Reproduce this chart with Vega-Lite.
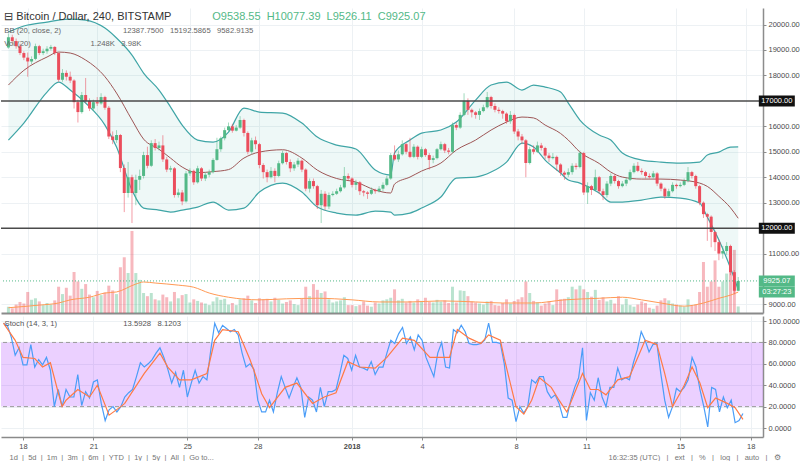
{
"$schema": "https://vega.github.io/schema/vega-lite/v6.json",
"padding": {"left": 0, "top": 8, "right": 0, "bottom": 0},
"spacing": 3,
"config": {
 "font": "Liberation Sans",
 "view": {"stroke": null},
 "axis": {"labelFont": "Liberation Sans", "labelFontSize": 7.5, "labelColor": "#4a4a4a", "gridColor": "#edf1f4", "gridWidth": 1, "domainColor": "#8c8c8c", "tickColor": "#8c8c8c", "labelOverlap": false},
 "title": {"font": "Liberation Sans", "fontWeight": "normal", "color": "#333333", "subtitleFont": "Liberation Sans", "subtitleColor": "#666666"}
},
"title": {
 "text": "⊟ Bitcoin / Dollar, 240, BITSTAMP",
 "subtitle": ["BB (20, close, 2)\u00a0\u00a0\u00a0\u00a0\u00a0\u00a0\u00a0\u00a0\u00a0\u00a0\u00a0\u00a0\u00a0\u00a0\u00a0\u00a0\u00a0\u00a0\u00a0\u00a0\u00a0\u00a0\u00a0\u00a0\u00a0\u00a0\u00a0\u00a0\u00a012387.7500\u00a0\u00a0\u00a015192.5865\u00a0\u00a0\u00a09582.9135", "Vol (20)\u00a0\u00a0\u00a0\u00a0\u00a0\u00a0\u00a0\u00a0\u00a0\u00a0\u00a0\u00a0\u00a0\u00a0\u00a0\u00a0\u00a0\u00a0\u00a0\u00a0\u00a0\u00a0\u00a0\u00a0\u00a0\u00a0\u00a0\u00a01.248K\u00a0\u00a0\u00a03.98K"],
 "anchor": "start", "dx": 4, "fontSize": 11, "subtitleFontSize": 7.7, "subtitlePadding": 5, "subtitleLineHeight": 13, "offset": -40
},
"datasets": {
 "candles": [
{"t":"2017-12-17T04:00Z","o":19100,"h":19650,"l":19050,"c":19500,"v":1.2,"k":98},
{"t":"2017-12-17T08:00Z","o":19500,"h":19600,"l":19250,"c":19350,"v":0.9,"k":96},
{"t":"2017-12-17T12:00Z","o":19350,"h":19450,"l":19050,"c":19150,"v":1.6,"k":85},
{"t":"2017-12-17T16:00Z","o":19150,"h":19250,"l":18800,"c":18880,"v":2.1,"k":68},
{"t":"2017-12-17T20:00Z","o":18880,"h":18950,"l":18600,"c":18700,"v":1.8,"k":75},
{"t":"2017-12-18T00:00Z","o":18700,"h":18900,"l":17950,"c":18550,"v":4.0,"k":59},
{"t":"2017-12-18T04:00Z","o":18550,"h":18750,"l":18450,"c":18650,"v":2.5,"k":59},
{"t":"2017-12-18T08:00Z","o":18650,"h":19250,"l":18600,"c":19150,"v":2.8,"k":78},
{"t":"2017-12-18T12:00Z","o":19150,"h":19200,"l":18800,"c":18880,"v":2.2,"k":57},
{"t":"2017-12-18T16:00Z","o":18880,"h":19050,"l":18800,"c":18950,"v":1.5,"k":64},
{"t":"2017-12-18T20:00Z","o":18950,"h":19150,"l":18850,"c":19050,"v":1.9,"k":59},
{"t":"2017-12-19T00:00Z","o":19050,"h":19200,"l":18980,"c":19120,"v":1.6,"k":66},
{"t":"2017-12-19T04:00Z","o":19120,"h":19150,"l":18800,"c":18880,"v":2.4,"k":54},
{"t":"2017-12-19T08:00Z","o":18880,"h":18900,"l":17750,"c":17830,"v":5.0,"k":20},
{"t":"2017-12-19T12:00Z","o":17830,"h":18250,"l":17750,"c":18100,"v":3.6,"k":36},
{"t":"2017-12-19T16:00Z","o":18100,"h":18200,"l":17800,"c":17950,"v":4.8,"k":20},
{"t":"2017-12-19T20:00Z","o":17950,"h":18150,"l":17700,"c":17800,"v":3.3,"k":36},
{"t":"2017-12-20T00:00Z","o":17800,"h":17850,"l":16700,"c":16950,"v":7.8,"k":29},
{"t":"2017-12-20T04:00Z","o":16950,"h":17050,"l":16150,"c":16560,"v":6.0,"k":29},
{"t":"2017-12-20T08:00Z","o":16560,"h":17350,"l":16500,"c":17230,"v":4.6,"k":50},
{"t":"2017-12-20T12:00Z","o":17230,"h":17900,"l":16900,"c":17000,"v":5.5,"k":21},
{"t":"2017-12-20T16:00Z","o":17000,"h":17100,"l":16600,"c":16700,"v":3.5,"k":34},
{"t":"2017-12-20T20:00Z","o":16700,"h":17050,"l":16600,"c":16950,"v":3.0,"k":28},
{"t":"2017-12-21T00:00Z","o":16950,"h":17150,"l":16800,"c":16900,"v":4.2,"k":43},
{"t":"2017-12-21T04:00Z","o":16900,"h":17300,"l":16850,"c":17150,"v":3.4,"k":45},
{"t":"2017-12-21T08:00Z","o":17150,"h":17200,"l":16650,"c":16730,"v":3.9,"k":23},
{"t":"2017-12-21T12:00Z","o":16730,"h":16800,"l":15500,"c":15600,"v":5.2,"k":7},
{"t":"2017-12-21T16:00Z","o":15600,"h":15800,"l":15300,"c":15460,"v":4.3,"k":17},
{"t":"2017-12-21T20:00Z","o":15460,"h":15850,"l":15350,"c":15660,"v":3.6,"k":20},
{"t":"2017-12-22T00:00Z","o":15660,"h":15700,"l":14200,"c":14360,"v":8.7,"k":15},
{"t":"2017-12-22T04:00Z","o":14360,"h":14500,"l":12630,"c":13380,"v":10.6,"k":20},
{"t":"2017-12-22T08:00Z","o":13380,"h":14600,"l":13200,"c":14000,"v":7.6,"k":29},
{"t":"2017-12-22T12:00Z","o":14000,"h":14100,"l":12200,"c":13380,"v":15.6,"k":33},
{"t":"2017-12-22T16:00Z","o":13380,"h":14100,"l":12900,"c":13900,"v":7.6,"k":36},
{"t":"2017-12-22T20:00Z","o":13900,"h":14300,"l":13500,"c":14050,"v":6.3,"k":48},
{"t":"2017-12-23T00:00Z","o":14050,"h":15000,"l":13950,"c":14870,"v":3.8,"k":61},
{"t":"2017-12-23T04:00Z","o":14870,"h":15200,"l":14350,"c":14450,"v":3.2,"k":57},
{"t":"2017-12-23T08:00Z","o":14450,"h":15450,"l":14400,"c":15340,"v":3.8,"k":60},
{"t":"2017-12-23T12:00Z","o":15340,"h":15500,"l":15050,"c":15150,"v":2.6,"k":64},
{"t":"2017-12-23T16:00Z","o":15150,"h":15400,"l":15050,"c":15250,"v":2.4,"k":70},
{"t":"2017-12-23T20:00Z","o":15250,"h":15650,"l":14600,"c":14700,"v":3.5,"k":75},
{"t":"2017-12-24T00:00Z","o":14700,"h":14800,"l":14200,"c":14300,"v":3.0,"k":66},
{"t":"2017-12-24T04:00Z","o":14300,"h":14450,"l":14200,"c":14350,"v":2.2,"k":55},
{"t":"2017-12-24T08:00Z","o":14350,"h":14400,"l":13200,"c":13300,"v":4.0,"k":42},
{"t":"2017-12-24T12:00Z","o":13300,"h":13550,"l":13200,"c":13400,"v":2.8,"k":52},
{"t":"2017-12-24T16:00Z","o":13400,"h":13500,"l":12900,"c":13050,"v":3.4,"k":38},
{"t":"2017-12-24T20:00Z","o":13050,"h":14250,"l":13000,"c":14150,"v":3.6,"k":54},
{"t":"2017-12-25T00:00Z","o":14150,"h":14350,"l":14050,"c":14250,"v":2.0,"k":29},
{"t":"2017-12-25T04:00Z","o":14250,"h":14300,"l":13700,"c":13800,"v":2.6,"k":42},
{"t":"2017-12-25T08:00Z","o":13800,"h":14450,"l":13750,"c":14350,"v":2.3,"k":54},
{"t":"2017-12-25T12:00Z","o":14350,"h":14400,"l":13850,"c":13950,"v":2.0,"k":42},
{"t":"2017-12-25T16:00Z","o":13950,"h":14200,"l":13850,"c":14100,"v":1.8,"k":48},
{"t":"2017-12-25T20:00Z","o":14100,"h":14300,"l":14000,"c":14200,"v":1.5,"k":45},
{"t":"2017-12-26T00:00Z","o":14200,"h":14750,"l":14150,"c":14680,"v":2.2,"k":73},
{"t":"2017-12-26T04:00Z","o":14680,"h":15550,"l":14650,"c":15100,"v":3.0,"k":98},
{"t":"2017-12-26T08:00Z","o":15100,"h":15600,"l":15000,"c":15530,"v":2.5,"k":89},
{"t":"2017-12-26T12:00Z","o":15530,"h":15950,"l":15450,"c":15850,"v":2.7,"k":96},
{"t":"2017-12-26T16:00Z","o":15850,"h":16150,"l":15800,"c":16000,"v":1.6,"k":93},
{"t":"2017-12-26T20:00Z","o":16000,"h":16100,"l":15750,"c":15830,"v":1.9,"k":90},
{"t":"2017-12-27T00:00Z","o":15830,"h":16050,"l":15800,"c":15950,"v":1.5,"k":92},
{"t":"2017-12-27T04:00Z","o":15950,"h":16400,"l":15900,"c":16250,"v":2.6,"k":87},
{"t":"2017-12-27T08:00Z","o":16250,"h":16300,"l":15600,"c":15740,"v":2.8,"k":70},
{"t":"2017-12-27T12:00Z","o":15740,"h":15800,"l":14900,"c":15000,"v":3.3,"k":57},
{"t":"2017-12-27T16:00Z","o":15000,"h":15550,"l":14900,"c":15450,"v":2.4,"k":60},
{"t":"2017-12-27T20:00Z","o":15450,"h":15600,"l":15100,"c":15300,"v":1.9,"k":55},
{"t":"2017-12-28T00:00Z","o":15300,"h":15350,"l":14350,"c":14480,"v":2.8,"k":26},
{"t":"2017-12-28T04:00Z","o":14480,"h":14550,"l":13950,"c":14200,"v":2.6,"k":15},
{"t":"2017-12-28T08:00Z","o":14200,"h":14300,"l":13800,"c":14000,"v":2.7,"k":15},
{"t":"2017-12-28T12:00Z","o":14000,"h":14400,"l":13950,"c":14250,"v":2.2,"k":26},
{"t":"2017-12-28T16:00Z","o":14250,"h":14350,"l":13800,"c":14050,"v":2.9,"k":15},
{"t":"2017-12-28T20:00Z","o":14050,"h":14650,"l":14000,"c":14550,"v":2.5,"k":33},
{"t":"2017-12-29T00:00Z","o":14550,"h":15050,"l":14500,"c":14950,"v":1.8,"k":48},
{"t":"2017-12-29T04:00Z","o":14950,"h":15000,"l":14500,"c":14600,"v":2.1,"k":38},
{"t":"2017-12-29T08:00Z","o":14600,"h":14700,"l":14200,"c":14350,"v":2.4,"k":28},
{"t":"2017-12-29T12:00Z","o":14350,"h":14600,"l":14250,"c":14500,"v":1.7,"k":38},
{"t":"2017-12-29T16:00Z","o":14500,"h":14750,"l":14400,"c":14650,"v":1.5,"k":47},
{"t":"2017-12-29T20:00Z","o":14650,"h":14700,"l":14200,"c":14300,"v":2.7,"k":38},
{"t":"2017-12-30T00:00Z","o":14300,"h":14350,"l":13450,"c":13550,"v":5.0,"k":10},
{"t":"2017-12-30T04:00Z","o":13550,"h":13950,"l":13400,"c":13850,"v":3.2,"k":29},
{"t":"2017-12-30T08:00Z","o":13850,"h":13950,"l":13550,"c":13650,"v":5.5,"k":26},
{"t":"2017-12-30T12:00Z","o":13650,"h":13700,"l":12750,"c":12900,"v":4.4,"k":15},
{"t":"2017-12-30T16:00Z","o":12900,"h":13500,"l":12200,"c":13350,"v":3.8,"k":38},
{"t":"2017-12-30T20:00Z","o":13350,"h":13450,"l":12700,"c":12850,"v":4.1,"k":20},
{"t":"2017-12-31T00:00Z","o":12850,"h":13400,"l":12750,"c":13300,"v":2.6,"k":34},
{"t":"2017-12-31T04:00Z","o":13300,"h":13450,"l":13250,"c":13350,"v":2.0,"k":34},
{"t":"2017-12-31T08:00Z","o":13350,"h":13550,"l":13300,"c":13450,"v":2.2,"k":36},
{"t":"2017-12-31T12:00Z","o":13450,"h":13700,"l":13400,"c":13600,"v":2.4,"k":51},
{"t":"2017-12-31T16:00Z","o":13600,"h":14400,"l":13550,"c":14050,"v":3.0,"k":68},
{"t":"2017-12-31T20:00Z","o":14050,"h":14150,"l":13850,"c":13950,"v":1.5,"k":65},
{"t":"2018-01-01T00:00Z","o":13950,"h":14000,"l":13600,"c":13700,"v":1.5,"k":54},
{"t":"2018-01-01T04:00Z","o":13700,"h":13900,"l":13500,"c":13800,"v":1.3,"k":68},
{"t":"2018-01-01T08:00Z","o":13800,"h":13850,"l":13300,"c":13450,"v":1.5,"k":57},
{"t":"2018-01-01T12:00Z","o":13450,"h":13500,"l":13250,"c":13400,"v":2.2,"k":56},
{"t":"2018-01-01T16:00Z","o":13400,"h":13450,"l":13150,"c":13350,"v":1.4,"k":54},
{"t":"2018-01-01T20:00Z","o":13350,"h":13600,"l":13300,"c":13500,"v":1.2,"k":62},
{"t":"2018-01-02T00:00Z","o":13500,"h":13550,"l":13350,"c":13450,"v":2.0,"k":50},
{"t":"2018-01-02T04:00Z","o":13450,"h":13650,"l":13400,"c":13550,"v":1.8,"k":57},
{"t":"2018-01-02T08:00Z","o":13550,"h":13800,"l":13450,"c":13700,"v":2.4,"k":57},
{"t":"2018-01-02T12:00Z","o":13700,"h":14050,"l":13650,"c":13950,"v":2.6,"k":70},
{"t":"2018-01-02T16:00Z","o":13950,"h":14950,"l":13900,"c":14870,"v":2.9,"k":82},
{"t":"2018-01-02T20:00Z","o":14870,"h":15250,"l":14650,"c":14700,"v":4.5,"k":79},
{"t":"2018-01-03T00:00Z","o":14700,"h":15050,"l":14600,"c":14900,"v":2.4,"k":88},
{"t":"2018-01-03T04:00Z","o":14900,"h":15450,"l":14850,"c":15300,"v":2.7,"k":94},
{"t":"2018-01-03T08:00Z","o":15300,"h":15350,"l":14900,"c":15000,"v":2.0,"k":79},
{"t":"2018-01-03T12:00Z","o":15000,"h":15550,"l":14750,"c":14800,"v":2.3,"k":85},
{"t":"2018-01-03T16:00Z","o":14800,"h":15300,"l":14750,"c":15200,"v":2.0,"k":73},
{"t":"2018-01-03T20:00Z","o":15200,"h":15250,"l":14700,"c":14800,"v":2.6,"k":87},
{"t":"2018-01-04T00:00Z","o":14800,"h":15200,"l":14750,"c":15100,"v":2.3,"k":82},
{"t":"2018-01-04T04:00Z","o":15100,"h":15150,"l":14800,"c":14870,"v":2.9,"k":66},
{"t":"2018-01-04T08:00Z","o":14870,"h":14950,"l":14300,"c":14680,"v":2.1,"k":57},
{"t":"2018-01-04T12:00Z","o":14680,"h":14850,"l":14550,"c":14750,"v":2.0,"k":48},
{"t":"2018-01-04T16:00Z","o":14750,"h":15150,"l":14700,"c":15100,"v":2.5,"k":70},
{"t":"2018-01-04T20:00Z","o":15100,"h":15400,"l":15050,"c":15300,"v":2.2,"k":80},
{"t":"2018-01-05T00:00Z","o":15300,"h":15350,"l":14950,"c":15050,"v":2.4,"k":57},
{"t":"2018-01-05T04:00Z","o":15050,"h":15150,"l":14900,"c":15000,"v":1.9,"k":56},
{"t":"2018-01-05T08:00Z","o":15000,"h":16150,"l":14950,"c":16050,"v":5.0,"k":92},
{"t":"2018-01-05T12:00Z","o":16050,"h":16150,"l":15850,"c":15950,"v":2.0,"k":89},
{"t":"2018-01-05T16:00Z","o":15950,"h":16550,"l":15900,"c":16450,"v":4.3,"k":96},
{"t":"2018-01-05T20:00Z","o":16450,"h":17300,"l":16400,"c":17000,"v":4.2,"k":90},
{"t":"2018-01-06T00:00Z","o":17000,"h":17100,"l":16450,"c":16650,"v":3.2,"k":79},
{"t":"2018-01-06T04:00Z","o":16650,"h":16700,"l":16350,"c":16550,"v":2.2,"k":78},
{"t":"2018-01-06T08:00Z","o":16550,"h":16600,"l":16300,"c":16450,"v":2.0,"k":78},
{"t":"2018-01-06T12:00Z","o":16450,"h":16700,"l":16250,"c":16600,"v":1.8,"k":79},
{"t":"2018-01-06T16:00Z","o":16600,"h":16850,"l":16550,"c":16750,"v":1.6,"k":82},
{"t":"2018-01-06T20:00Z","o":16750,"h":17350,"l":16700,"c":17150,"v":2.2,"k":98},
{"t":"2018-01-07T00:00Z","o":17150,"h":17200,"l":16700,"c":16800,"v":2.3,"k":80},
{"t":"2018-01-07T04:00Z","o":16800,"h":16900,"l":16550,"c":16650,"v":1.5,"k":80},
{"t":"2018-01-07T08:00Z","o":16650,"h":16750,"l":16500,"c":16600,"v":1.4,"k":79},
{"t":"2018-01-07T12:00Z","o":16600,"h":16650,"l":16300,"c":16500,"v":1.9,"k":60},
{"t":"2018-01-07T16:00Z","o":16500,"h":16550,"l":16100,"c":16200,"v":2.6,"k":28},
{"t":"2018-01-07T20:00Z","o":16200,"h":16600,"l":16100,"c":16450,"v":1.8,"k":26},
{"t":"2018-01-08T00:00Z","o":16450,"h":16500,"l":15700,"c":15800,"v":2.3,"k":6},
{"t":"2018-01-08T04:00Z","o":15800,"h":15900,"l":15450,"c":15600,"v":2.6,"k":20},
{"t":"2018-01-08T08:00Z","o":15600,"h":15700,"l":15300,"c":15450,"v":3.0,"k":14},
{"t":"2018-01-08T12:00Z","o":15450,"h":15500,"l":14000,"c":14560,"v":6.0,"k":20},
{"t":"2018-01-08T16:00Z","o":14560,"h":15200,"l":14500,"c":15100,"v":3.8,"k":45},
{"t":"2018-01-08T20:00Z","o":15100,"h":15250,"l":14900,"c":15000,"v":2.3,"k":42},
{"t":"2018-01-09T00:00Z","o":15000,"h":15400,"l":14950,"c":15250,"v":2.0,"k":48},
{"t":"2018-01-09T04:00Z","o":15250,"h":15350,"l":15050,"c":15150,"v":1.4,"k":48},
{"t":"2018-01-09T08:00Z","o":15150,"h":15200,"l":14700,"c":14850,"v":1.8,"k":34},
{"t":"2018-01-09T12:00Z","o":14850,"h":14950,"l":14600,"c":14750,"v":2.2,"k":28},
{"t":"2018-01-09T16:00Z","o":14750,"h":14950,"l":14700,"c":14800,"v":1.5,"k":31},
{"t":"2018-01-09T20:00Z","o":14800,"h":14850,"l":14250,"c":14500,"v":4.5,"k":23},
{"t":"2018-01-10T00:00Z","o":14500,"h":14550,"l":14050,"c":14180,"v":2.6,"k":10},
{"t":"2018-01-10T04:00Z","o":14180,"h":14250,"l":13900,"c":14100,"v":2.7,"k":10},
{"t":"2018-01-10T08:00Z","o":14100,"h":14350,"l":14000,"c":14200,"v":3.0,"k":26},
{"t":"2018-01-10T12:00Z","o":14200,"h":14550,"l":14100,"c":14450,"v":5.0,"k":38},
{"t":"2018-01-10T16:00Z","o":14450,"h":14550,"l":14300,"c":14400,"v":4.5,"k":47},
{"t":"2018-01-10T20:00Z","o":14400,"h":15050,"l":14350,"c":14950,"v":5.2,"k":75},
{"t":"2018-01-11T00:00Z","o":14950,"h":15000,"l":13300,"c":13400,"v":4.5,"k":7},
{"t":"2018-01-11T04:00Z","o":13400,"h":13800,"l":12950,"c":13650,"v":4.0,"k":33},
{"t":"2018-01-11T08:00Z","o":13650,"h":13700,"l":13300,"c":13500,"v":3.1,"k":26},
{"t":"2018-01-11T12:00Z","o":13500,"h":14300,"l":13450,"c":14000,"v":4.4,"k":47},
{"t":"2018-01-11T16:00Z","o":14000,"h":14050,"l":13350,"c":13450,"v":2.5,"k":29},
{"t":"2018-01-11T20:00Z","o":13450,"h":13550,"l":13100,"c":13300,"v":3.0,"k":20},
{"t":"2018-01-12T00:00Z","o":13300,"h":13850,"l":13200,"c":13750,"v":2.2,"k":38},
{"t":"2018-01-12T04:00Z","o":13750,"h":14150,"l":13650,"c":14050,"v":2.5,"k":38},
{"t":"2018-01-12T08:00Z","o":14050,"h":14100,"l":13750,"c":13850,"v":1.8,"k":56},
{"t":"2018-01-12T12:00Z","o":13850,"h":13900,"l":13550,"c":13650,"v":3.2,"k":45},
{"t":"2018-01-12T16:00Z","o":13650,"h":13850,"l":13600,"c":13750,"v":1.6,"k":47},
{"t":"2018-01-12T20:00Z","o":13750,"h":14000,"l":13650,"c":13900,"v":2.7,"k":45},
{"t":"2018-01-13T00:00Z","o":13900,"h":14300,"l":13850,"c":14200,"v":1.5,"k":61},
{"t":"2018-01-13T04:00Z","o":14200,"h":14550,"l":14150,"c":14450,"v":1.2,"k":73},
{"t":"2018-01-13T08:00Z","o":14450,"h":14600,"l":14200,"c":14250,"v":1.6,"k":90},
{"t":"2018-01-13T12:00Z","o":14250,"h":14350,"l":14100,"c":14200,"v":2.2,"k":82},
{"t":"2018-01-13T16:00Z","o":14200,"h":14250,"l":13950,"c":14050,"v":1.9,"k":71},
{"t":"2018-01-13T20:00Z","o":14050,"h":14150,"l":13950,"c":14000,"v":1.0,"k":78},
{"t":"2018-01-14T00:00Z","o":14000,"h":14250,"l":13950,"c":14150,"v":0.8,"k":79},
{"t":"2018-01-14T04:00Z","o":14150,"h":14200,"l":13650,"c":13750,"v":1.4,"k":51},
{"t":"2018-01-14T08:00Z","o":13750,"h":13800,"l":13450,"c":13550,"v":2.4,"k":26},
{"t":"2018-01-14T12:00Z","o":13550,"h":13600,"l":13150,"c":13250,"v":2.8,"k":10},
{"t":"2018-01-14T16:00Z","o":13250,"h":13550,"l":13200,"c":13450,"v":2.4,"k":20},
{"t":"2018-01-14T20:00Z","o":13450,"h":13800,"l":13400,"c":13700,"v":1.8,"k":37},
{"t":"2018-01-15T00:00Z","o":13700,"h":13750,"l":13550,"c":13650,"v":1.6,"k":34},
{"t":"2018-01-15T04:00Z","o":13650,"h":13800,"l":13600,"c":13700,"v":1.4,"k":38},
{"t":"2018-01-15T08:00Z","o":13700,"h":13950,"l":13650,"c":13850,"v":1.2,"k":45},
{"t":"2018-01-15T12:00Z","o":13850,"h":14400,"l":13800,"c":14200,"v":2.6,"k":66},
{"t":"2018-01-15T16:00Z","o":14200,"h":14250,"l":13950,"c":14050,"v":1.4,"k":57},
{"t":"2018-01-15T20:00Z","o":14050,"h":14100,"l":13550,"c":13650,"v":1.6,"k":36},
{"t":"2018-01-16T00:00Z","o":13650,"h":13700,"l":12900,"c":13000,"v":4.0,"k":20},
{"t":"2018-01-16T04:00Z","o":13000,"h":13050,"l":12400,"c":12550,"v":9.7,"k":1},
{"t":"2018-01-16T08:00Z","o":12550,"h":12600,"l":11500,"c":12450,"v":5.0,"k":38},
{"t":"2018-01-16T12:00Z","o":12450,"h":12500,"l":11250,"c":11850,"v":6.0,"k":36},
{"t":"2018-01-16T16:00Z","o":11850,"h":11900,"l":11100,"c":11450,"v":10.0,"k":15},
{"t":"2018-01-16T20:00Z","o":11450,"h":11550,"l":10740,"c":11000,"v":5.0,"k":29},
{"t":"2018-01-17T00:00Z","o":11000,"h":11300,"l":10800,"c":11100,"v":6.0,"k":19},
{"t":"2018-01-17T04:00Z","o":11100,"h":11450,"l":10950,"c":11300,"v":7.5,"k":26},
{"t":"2018-01-17T08:00Z","o":11300,"h":11350,"l":10150,"c":10270,"v":12.0,"k":5},
{"t":"2018-01-17T12:00Z","o":10270,"h":10350,"l":9400,"c":9538.55,"v":12.0,"k":7},
{"t":"2018-01-17T16:00Z","o":9538.55,"h":10077.39,"l":9526.11,"c":9925.07,"v":1.248,"k":13.5928}
 ],
 "bb": [
{"t":"2017-12-17T04:00Z","u":19705,"m":17622,"l":15461},
{"t":"2017-12-17T20:00Z","u":19941,"m":18200,"l":16129},
{"t":"2017-12-18T20:00Z","u":20098,"m":18723,"l":17347},
{"t":"2017-12-19T08:00Z","u":20177,"m":18919,"l":17740},
{"t":"2017-12-19T20:00Z","u":20216,"m":18880,"l":17426},
{"t":"2017-12-20T12:00Z","u":20177,"m":18605,"l":16915},
{"t":"2017-12-21T08:00Z","u":19862,"m":17950,"l":16050},
{"t":"2017-12-21T20:00Z","u":19470,"m":17308,"l":15186},
{"t":"2017-12-22T12:00Z","u":18801,"m":16250,"l":13496},
{"t":"2017-12-23T00:00Z","u":18094,"m":15500,"l":12788},
{"t":"2017-12-23T16:00Z","u":17426,"m":15100,"l":12710},
{"t":"2017-12-24T04:00Z","u":16758,"m":14750,"l":12631},
{"t":"2017-12-24T16:00Z","u":16050,"m":14400,"l":12710},
{"t":"2017-12-25T08:00Z","u":15461,"m":14180,"l":12828},
{"t":"2017-12-26T00:00Z","u":15382,"m":14220,"l":13024},
{"t":"2017-12-26T16:00Z","u":15775,"m":14300,"l":12710},
{"t":"2017-12-27T08:00Z","u":16719,"m":14753,"l":12788},
{"t":"2017-12-28T00:00Z","u":16561,"m":14989,"l":13417},
{"t":"2017-12-29T00:00Z","u":16522,"m":15080,"l":13771},
{"t":"2017-12-29T20:00Z","u":16129,"m":14753,"l":13417},
{"t":"2017-12-30T12:00Z","u":15579,"m":14280,"l":12828},
{"t":"2017-12-31T08:00Z","u":15264,"m":13950,"l":12592},
{"t":"2018-01-01T04:00Z","u":15107,"m":13810,"l":12513},
{"t":"2018-01-02T00:00Z","u":14282,"m":13496,"l":12671},
{"t":"2018-01-02T16:00Z","u":14085,"m":13380,"l":12631},
{"t":"2018-01-02T20:00Z","u":14950,"m":13732,"l":12513},
{"t":"2018-01-03T12:00Z","u":15461,"m":14007,"l":12592},
{"t":"2018-01-04T00:00Z","u":15736,"m":14243,"l":12788},
{"t":"2018-01-04T20:00Z","u":15854,"m":14557,"l":13221},
{"t":"2018-01-05T12:00Z","u":16168,"m":15068,"l":13967},
{"t":"2018-01-06T08:00Z","u":17033,"m":15461,"l":14007},
{"t":"2018-01-07T00:00Z","u":17622,"m":15854,"l":14203},
{"t":"2018-01-07T16:00Z","u":17740,"m":16168,"l":14596},
{"t":"2018-01-08T08:00Z","u":17426,"m":16365,"l":15343},
{"t":"2018-01-08T20:00Z","u":17622,"m":16330,"l":15186},
{"t":"2018-01-09T08:00Z","u":17544,"m":16050,"l":14675},
{"t":"2018-01-10T00:00Z","u":17347,"m":15720,"l":14164},
{"t":"2018-01-10T08:00Z","u":16915,"m":15461,"l":13889},
{"t":"2018-01-10T20:00Z","u":16247,"m":14989,"l":13771},
{"t":"2018-01-11T16:00Z","u":15657,"m":14540,"l":13378},
{"t":"2018-01-12T04:00Z","u":15461,"m":14203,"l":13024},
{"t":"2018-01-12T16:00Z","u":14950,"m":14007,"l":13024},
{"t":"2018-01-13T12:00Z","u":14675,"m":13928,"l":13103},
{"t":"2018-01-14T08:00Z","u":14596,"m":13928,"l":13221},
{"t":"2018-01-15T04:00Z","u":14557,"m":13889,"l":13182},
{"t":"2018-01-16T00:00Z","u":14596,"m":13771,"l":12985},
{"t":"2018-01-16T08:00Z","u":14871,"m":13640,"l":12435},
{"t":"2018-01-16T20:00Z","u":14989,"m":13250,"l":11531},
{"t":"2018-01-17T08:00Z","u":15186,"m":12800,"l":10430},
{"t":"2018-01-17T16:00Z","u":15192.5865,"m":12387.75,"l":9582.9135}
 ],
 "vma": [
{"t":"2017-12-17T04:00Z","vm":1.0},{"t":"2017-12-18T12:00Z","vm":1.5},{"t":"2017-12-19T08:00Z","vm":1.9},{"t":"2017-12-19T20:00Z","vm":2.5},
{"t":"2017-12-20T16:00Z","vm":3.0},{"t":"2017-12-21T08:00Z","vm":3.8},{"t":"2017-12-21T20:00Z","vm":4.0},{"t":"2017-12-22T16:00Z","vm":5.5},
{"t":"2017-12-23T00:00Z","vm":5.9},{"t":"2017-12-23T12:00Z","vm":5.7},{"t":"2017-12-24T12:00Z","vm":5.3},{"t":"2017-12-25T04:00Z","vm":4.9},
{"t":"2017-12-25T20:00Z","vm":3.8},{"t":"2017-12-26T16:00Z","vm":3.0},{"t":"2017-12-28T00:00Z","vm":2.5},{"t":"2017-12-29T04:00Z","vm":2.7},
{"t":"2017-12-30T12:00Z","vm":2.8},{"t":"2018-01-01T00:00Z","vm":2.5},{"t":"2018-01-02T04:00Z","vm":2.1},{"t":"2018-01-03T12:00Z","vm":2.1},
{"t":"2018-01-04T20:00Z","vm":2.3},{"t":"2018-01-06T08:00Z","vm":2.1},{"t":"2018-01-07T12:00Z","vm":1.9},{"t":"2018-01-08T20:00Z","vm":1.9},
{"t":"2018-01-10T04:00Z","vm":2.5},{"t":"2018-01-11T16:00Z","vm":2.8},{"t":"2018-01-12T16:00Z","vm":3.0},{"t":"2018-01-13T12:00Z","vm":2.5},
{"t":"2018-01-14T08:00Z","vm":1.9},{"t":"2018-01-15T08:00Z","vm":1.3},{"t":"2018-01-16T04:00Z","vm":1.9},{"t":"2018-01-16T20:00Z","vm":2.8},
{"t":"2018-01-17T08:00Z","vm":3.4},{"t":"2018-01-17T16:00Z","vm":3.98}
 ],
 "stochD": [
{"t":"2017-12-17T04:00Z","d":98},{"t":"2017-12-17T16:00Z","d":82},{"t":"2017-12-18T00:00Z","d":66},{"t":"2017-12-18T12:00Z","d":65},
{"t":"2017-12-18T20:00Z","d":57},{"t":"2017-12-19T04:00Z","d":61},{"t":"2017-12-19T12:00Z","d":33},{"t":"2017-12-19T16:00Z","d":20},
{"t":"2017-12-19T20:00Z","d":26},{"t":"2017-12-20T08:00Z","d":36},{"t":"2017-12-20T20:00Z","d":29},{"t":"2017-12-21T04:00Z","d":40},
{"t":"2017-12-21T16:00Z","d":12},{"t":"2017-12-22T04:00Z","d":20},{"t":"2017-12-22T08:00Z","d":23},{"t":"2017-12-23T04:00Z","d":51},
{"t":"2017-12-23T20:00Z","d":70},{"t":"2017-12-24T04:00Z","d":57},{"t":"2017-12-24T16:00Z","d":45},{"t":"2017-12-25T04:00Z","d":45},
{"t":"2017-12-25T20:00Z","d":51},{"t":"2017-12-26T04:00Z","d":82},{"t":"2017-12-26T12:00Z","d":92},{"t":"2017-12-27T04:00Z","d":90},
{"t":"2017-12-27T16:00Z","d":64},{"t":"2017-12-27T20:00Z","d":54},{"t":"2017-12-28T04:00Z","d":32},{"t":"2017-12-28T12:00Z","d":19},
{"t":"2017-12-29T04:00Z","d":38},{"t":"2017-12-29T16:00Z","d":42},{"t":"2017-12-30T08:00Z","d":23},{"t":"2017-12-30T20:00Z","d":29},
{"t":"2017-12-31T08:00Z","d":33},{"t":"2017-12-31T20:00Z","d":62},{"t":"2018-01-01T08:00Z","d":57},{"t":"2018-01-02T00:00Z","d":56},
{"t":"2018-01-02T12:00Z","d":66},{"t":"2018-01-03T04:00Z","d":84},{"t":"2018-01-03T16:00Z","d":82},{"t":"2018-01-04T08:00Z","d":66},
{"t":"2018-01-05T04:00Z","d":66},{"t":"2018-01-05T12:00Z","d":92},{"t":"2018-01-06T00:00Z","d":84},{"t":"2018-01-06T12:00Z","d":79},
{"t":"2018-01-06T20:00Z","d":87},{"t":"2018-01-07T08:00Z","d":82},{"t":"2018-01-07T12:00Z","d":65},{"t":"2018-01-07T16:00Z","d":50},
{"t":"2018-01-08T00:00Z","d":20},{"t":"2018-01-08T08:00Z","d":13},{"t":"2018-01-08T16:00Z","d":26},{"t":"2018-01-09T00:00Z","d":47},
{"t":"2018-01-09T12:00Z","d":38},{"t":"2018-01-09T20:00Z","d":26},{"t":"2018-01-10T04:00Z","d":15},{"t":"2018-01-10T12:00Z","d":33},
{"t":"2018-01-10T20:00Z","d":51},{"t":"2018-01-11T04:00Z","d":36},{"t":"2018-01-11T12:00Z","d":36},{"t":"2018-01-11T20:00Z","d":31},
{"t":"2018-01-12T08:00Z","d":45},{"t":"2018-01-12T20:00Z","d":48},{"t":"2018-01-13T12:00Z","d":82},{"t":"2018-01-14T00:00Z","d":78},
{"t":"2018-01-14T08:00Z","d":51},{"t":"2018-01-14T16:00Z","d":20},{"t":"2018-01-15T00:00Z","d":33},{"t":"2018-01-15T04:00Z","d":40},
{"t":"2018-01-15T12:00Z","d":57},{"t":"2018-01-15T20:00Z","d":42},{"t":"2018-01-16T04:00Z","d":19},{"t":"2018-01-16T12:00Z","d":28},
{"t":"2018-01-17T00:00Z","d":23},{"t":"2018-01-17T08:00Z","d":19},{"t":"2018-01-17T16:00Z","d":8.1203}
 ],
 "levels": [{"level":17000,"label":"17000.00"},{"level":12000,"label":"12000.00"}],
 "last": [{"c":9925.07,"label":"9925.07","cd":"03:27:23"}],
 "band": [{"lo":20,"hi":80}],
 "bandLines": [{"y":80},{"y":20}]
},
"vconcat": [
{
 "width": 762, "height": 305,
 "title": {"text": "O9538.55\u00a0\u00a0H10077.39\u00a0\u00a0L9526.11\u00a0\u00a0C9925.07", "anchor": "start", "dx": 212, "color": "#53b987", "fontSize": 11, "offset": -14},
 "layer": [
  {
   "encoding": {"x": {"field": "t", "type": "temporal", "title": null,
     "scale": {"type": "utc", "domain": [{"year":2017,"month":12,"date":17,"hours":1,"minutes":30,"utc":true},{"year":2018,"month":1,"date":18,"hours":12,"minutes":30,"utc":true}]},
     "axis": {"orient": "bottom", "values": [{"year":2017,"month":12,"date":18,"utc":true},{"year":2017,"month":12,"date":21,"utc":true},{"year":2017,"month":12,"date":25,"utc":true},{"year":2017,"month":12,"date":28,"utc":true},{"year":2018,"month":1,"date":1,"utc":true},{"year":2018,"month":1,"date":4,"utc":true},{"year":2018,"month":1,"date":8,"utc":true},{"year":2018,"month":1,"date":11,"utc":true},{"year":2018,"month":1,"date":15,"utc":true},{"year":2018,"month":1,"date":18,"utc":true}], "tickCount": 50, "labels": false, "ticks": false, "grid": true, "domainWidth": 2, "domainColor": "#8a8a8a"}}},
   "layer": [
    {"data": {"name": "candles"},
     "mark": {"type": "bar", "width": 3, "opacity": 0.4},
     "encoding": {"y": {"field": "v", "type": "quantitative", "title": null, "scale": {"domain": [0, 58], "nice": false}, "axis": null},
       "color": {"condition": {"test": "datum.c >= datum.o", "value": "#53b987"}, "value": "#eb4d5c"}}},
    {"data": {"name": "vma"},
     "mark": {"type": "line", "color": "#ff9a55", "strokeWidth": 1, "interpolate": "monotone"},
     "encoding": {"y": {"field": "vm", "type": "quantitative", "title": null, "scale": {"domain": [0, 58], "nice": false}, "axis": null}}}
   ]
  },
  {
   "layer": [
    {
     "encoding": {"x": {"field": "t", "type": "temporal", "title": null,
       "scale": {"type": "utc", "domain": [{"year":2017,"month":12,"date":17,"hours":1,"minutes":30,"utc":true},{"year":2018,"month":1,"date":18,"hours":12,"minutes":30,"utc":true}]},
       "axis": {"orient": "bottom", "values": [{"year":2017,"month":12,"date":18,"utc":true},{"year":2017,"month":12,"date":21,"utc":true},{"year":2017,"month":12,"date":25,"utc":true},{"year":2017,"month":12,"date":28,"utc":true},{"year":2018,"month":1,"date":1,"utc":true},{"year":2018,"month":1,"date":4,"utc":true},{"year":2018,"month":1,"date":8,"utc":true},{"year":2018,"month":1,"date":11,"utc":true},{"year":2018,"month":1,"date":15,"utc":true},{"year":2018,"month":1,"date":18,"utc":true}], "tickCount": 50, "labels": false, "ticks": false, "grid": true, "domainWidth": 2, "domainColor": "#8a8a8a"}}},
     "layer": [
      {"data": {"name": "bb"},
       "mark": {"type": "area", "color": "#26a69a", "opacity": 0.08, "interpolate": "monotone"},
       "encoding": {"y": {"field": "u", "type": "quantitative", "title": null, "scale": {"domain": [8665, 20650], "nice": false, "zero": false},
          "axis": {"orient": "right", "values": [9000,11000,13000,14000,15000,16000,18000,19000,20000], "tickCount": 50, "format": ".2f", "tickSize": 3, "labelPadding": 2, "grid": true, "domainWidth": 1.5, "labelOverlap": false}},
         "y2": {"field": "l"}}},
      {"data": {"name": "bb"},
       "mark": {"type": "line", "color": "#3fa5a6", "strokeWidth": 1.2, "interpolate": "monotone"},
       "encoding": {"y": {"field": "u", "type": "quantitative", "title": null, "scale": {"domain": [8665, 20650], "nice": false, "zero": false}}}},
      {"data": {"name": "bb"},
       "mark": {"type": "line", "color": "#3fa5a6", "strokeWidth": 1.2, "interpolate": "monotone"},
       "encoding": {"y": {"field": "l", "type": "quantitative", "title": null, "scale": {"domain": [8665, 20650], "nice": false, "zero": false}}}},
      {"data": {"name": "bb"},
       "mark": {"type": "line", "color": "#9e5656", "strokeWidth": 1, "interpolate": "monotone"},
       "encoding": {"y": {"field": "m", "type": "quantitative", "title": null, "scale": {"domain": [8665, 20650], "nice": false, "zero": false}}}},
      {"data": {"name": "candles"},
       "mark": {"type": "rule", "strokeWidth": 1, "opacity": 0.55},
       "encoding": {"y": {"field": "l", "type": "quantitative", "title": null, "scale": {"domain": [8665, 20650], "nice": false, "zero": false}}, "y2": {"field": "h"},
         "color": {"condition": {"test": "datum.c >= datum.o", "value": "#53b987"}, "value": "#eb4d5c"}}},
      {"data": {"name": "candles"},
       "mark": {"type": "bar", "width": 3},
       "encoding": {"y": {"field": "o", "type": "quantitative", "title": null, "scale": {"domain": [8665, 20650], "nice": false, "zero": false}}, "y2": {"field": "c"},
         "color": {"condition": {"test": "datum.c >= datum.o", "value": "#53b987"}, "value": "#eb4d5c"}}}
     ]
    },
    {"data": {"name": "levels"}, "mark": {"type": "rule", "color": "#4a4a4a", "strokeWidth": 1.5},
     "encoding": {"y": {"field": "level", "type": "quantitative", "title": null, "scale": {"domain": [8665, 20650], "nice": false, "zero": false}}}},
    {"data": {"name": "last"}, "mark": {"type": "rule", "color": "#53b987", "strokeWidth": 1, "strokeDash": [1, 2]},
     "encoding": {"y": {"field": "c", "type": "quantitative", "title": null, "scale": {"domain": [8665, 20650], "nice": false, "zero": false}}}},
    {"data": {"name": "levels"}, "mark": {"type": "tick", "orient": "horizontal", "color": "#111111", "size": 36, "thickness": 11, "opacity": 1},
     "encoding": {"x": {"datum": {"year":2018,"month":1,"date":19,"hours":8,"utc":true}, "type": "temporal"},
       "y": {"field": "level", "type": "quantitative", "title": null}}},
    {"data": {"name": "levels"}, "mark": {"type": "text", "color": "#ffffff", "fontSize": 7.5, "align": "center", "baseline": "middle"},
     "encoding": {"x": {"datum": {"year":2018,"month":1,"date":19,"hours":8,"utc":true}, "type": "temporal"},
       "y": {"field": "level", "type": "quantitative", "title": null}, "text": {"field": "label"}}},
    {"data": {"name": "last"}, "mark": {"type": "tick", "orient": "horizontal", "color": "#53b987", "size": 36, "thickness": 11, "opacity": 1},
     "encoding": {"x": {"datum": {"year":2018,"month":1,"date":19,"hours":8,"utc":true}, "type": "temporal"},
       "y": {"field": "c", "type": "quantitative", "title": null}}},
    {"data": {"name": "last"}, "mark": {"type": "tick", "orient": "horizontal", "color": "#53b987", "size": 36, "thickness": 11, "opacity": 1, "yOffset": 11},
     "encoding": {"x": {"datum": {"year":2018,"month":1,"date":19,"hours":8,"utc":true}, "type": "temporal"},
       "y": {"field": "c", "type": "quantitative", "title": null}}},
    {"data": {"name": "last"}, "mark": {"type": "text", "color": "#ffffff", "fontSize": 7.5, "align": "center", "baseline": "middle"},
     "encoding": {"x": {"datum": {"year":2018,"month":1,"date":19,"hours":8,"utc":true}, "type": "temporal"},
       "y": {"field": "c", "type": "quantitative", "title": null}, "text": {"field": "label"}}},
    {"data": {"name": "last"}, "mark": {"type": "text", "color": "#ffffff", "fontSize": 7.5, "align": "center", "baseline": "middle", "yOffset": 11},
     "encoding": {"x": {"datum": {"year":2018,"month":1,"date":19,"hours":8,"utc":true}, "type": "temporal"},
       "y": {"field": "c", "type": "quantitative", "title": null}, "text": {"field": "cd"}}}
   ]
  }
 ],
 "resolve": {"scale": {"y": "independent"}}
},
{
 "width": 762, "height": 121,
 "title": {"text": "Stoch (14, 3, 1)\u00a0\u00a0\u00a0\u00a0\u00a0\u00a0\u00a0\u00a0\u00a0\u00a0\u00a0\u00a0\u00a0\u00a0\u00a0\u00a0\u00a0\u00a0\u00a0\u00a0\u00a0\u00a0\u00a0\u00a0\u00a0\u00a0\u00a0\u00a0\u00a0\u00a0\u00a013.5928\u00a0\u00a0\u00a08.1203", "anchor": "start", "dx": 4, "fontSize": 7.7, "color": "#555555", "offset": -12},
 "layer": [
  {"data": {"name": "band"}, "mark": {"type": "rect", "color": "#9915ff", "opacity": 0.2},
   "encoding": {"y": {"field": "hi", "type": "quantitative", "scale": {"domain": [-8.4, 104.7], "nice": false, "zero": false},
      "axis": {"orient": "right", "values": [0, 20, 40, 60, 80, 100], "tickCount": 50, "format": ".4f", "tickSize": 3, "labelPadding": 2, "grid": true, "domainWidth": 1.5, "labelOverlap": false,
          "title": "16:32:35 (UTC)\u00a0\u00a0\u00a0|\u00a0\u00a0\u00a0ext\u00a0\u00a0\u00a0|\u00a0\u00a0\u00a0%\u00a0\u00a0\u00a0|\u00a0\u00a0\u00a0log\u00a0\u00a0\u00a0|\u00a0\u00a0\u00a0auto\u00a0\u00a0\u00a0|\u00a0\u00a0\u00a0⚙",
          "titleAngle": 0, "titleX": -155, "titleY": 141, "titleAlign": "left", "titleBaseline": "middle", "titleFontSize": 7.5, "titleFontWeight": "normal", "titleColor": "#777777"}},
     "y2": {"field": "lo"}}},
  {"data": {"name": "bandLines"}, "mark": {"type": "rule", "color": "#9a9a9a", "strokeWidth": 1, "strokeDash": [4, 3]},
   "encoding": {"y": {"field": "y", "type": "quantitative"}}},
  {
   "encoding": {"x": {"field": "t", "type": "temporal", "title": null,
     "scale": {"type": "utc", "domain": [{"year":2017,"month":12,"date":17,"hours":1,"minutes":30,"utc":true},{"year":2018,"month":1,"date":18,"hours":12,"minutes":30,"utc":true}]},
     "axis": {"orient": "bottom", "values": [{"year":2017,"month":12,"date":18,"utc":true},{"year":2017,"month":12,"date":21,"utc":true},{"year":2017,"month":12,"date":25,"utc":true},{"year":2017,"month":12,"date":28,"utc":true},{"year":2018,"month":1,"date":1,"utc":true},{"year":2018,"month":1,"date":4,"utc":true},{"year":2018,"month":1,"date":8,"utc":true},{"year":2018,"month":1,"date":11,"utc":true},{"year":2018,"month":1,"date":15,"utc":true},{"year":2018,"month":1,"date":18,"utc":true}],
       "tickCount": 50,
       "labelExpr": "utcmonth(datum.value) == 0 && utcdate(datum.value) == 1 ? '2018' : '' + utcdate(datum.value)",
       "labelFontWeight": {"condition": {"test": "utcmonth(datum.value) == 0 && utcdate(datum.value) == 1", "value": "bold"}, "value": "normal"},
       "tickSize": 3, "labelPadding": 2, "grid": true, "domainWidth": 1.5, "domainColor": "#8a8a8a", "labelOverlap": false,
       "title": "1d\u00a0\u00a0|\u00a0\u00a05d\u00a0\u00a0|\u00a0\u00a01m\u00a0\u00a0|\u00a0\u00a03m\u00a0\u00a0|\u00a0\u00a06m\u00a0\u00a0|\u00a0\u00a0YTD\u00a0\u00a0|\u00a0\u00a01y\u00a0\u00a0|\u00a0\u00a05y\u00a0\u00a0|\u00a0\u00a0All\u00a0\u00a0|\u00a0\u00a0Go to...",
       "titleAnchor": "start", "titleAlign": "left", "titleX": 8, "titleY": 20, "titleBaseline": "middle", "titleFontSize": 7.5, "titleFontWeight": "normal", "titleColor": "#777777"}}},
   "layer": [
    {"data": {"name": "candles"},
     "mark": {"type": "line", "color": "#4a9df8", "strokeWidth": 1.2},
     "encoding": {"y": {"field": "k", "type": "quantitative"}}},
    {"data": {"name": "stochD"},
     "mark": {"type": "line", "color": "#ff7a45", "strokeWidth": 1.2},
     "encoding": {"y": {"field": "d", "type": "quantitative"}}}
   ]
  }
 ]
}
]
}
